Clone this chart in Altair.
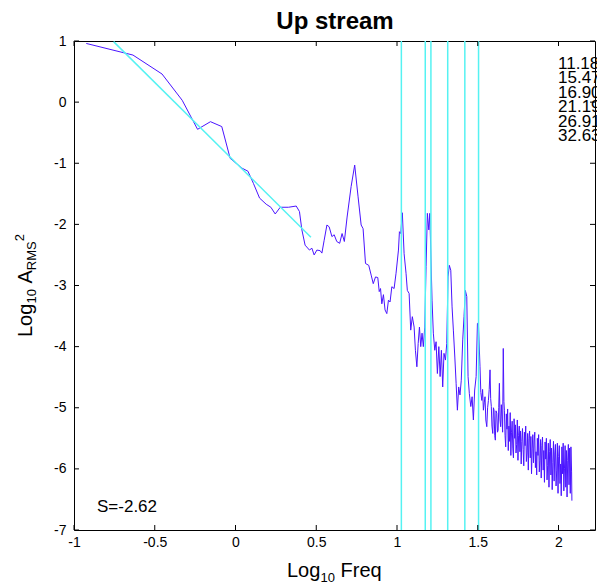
import altair as alt
import pandas as pd

# ---------------- data ----------------
title_text = "Up stream"

log_freq = [
    -0.924, -0.635, -0.455, -0.33, -0.235, -0.155, -0.085, -0.033, 0.04, 0.077,
    0.111, 0.149, 0.19, 0.219, 0.246, 0.277, 0.328, 0.376, 0.396, 0.411,
    0.431, 0.458, 0.473, 0.487, 0.504, 0.524, 0.535, 0.549, 0.566, 0.58,
    0.597, 0.611, 0.627, 0.645, 0.66, 0.674, 0.691, 0.716, 0.738, 0.759,
    0.778, 0.79, 0.805, 0.825, 0.84, 0.853, 0.867, 0.881, 0.89, 0.898,
    0.906, 0.916, 0.926, 0.937, 0.947, 0.957, 0.968, 0.982, 0.994, 1.009,
    1.015, 1.023, 1.033, 1.044, 1.056, 1.064, 1.075, 1.085, 1.095, 1.106,
    1.114, 1.123, 1.131, 1.139, 1.147, 1.155, 1.163, 1.172, 1.18, 1.188,
    1.197, 1.203, 1.209, 1.217, 1.225, 1.234, 1.242, 1.25, 1.259, 1.267,
    1.275, 1.283, 1.291, 1.30, 1.308, 1.316, 1.324, 1.333, 1.341, 1.349,
    1.358, 1.366, 1.374, 1.382, 1.39, 1.398, 1.407, 1.415, 1.423, 1.432,
    1.44, 1.448, 1.457, 1.465, 1.473, 1.481, 1.49, 1.498, 1.504, 1.514,
    1.519, 1.525, 1.530, 1.535, 1.540, 1.545, 1.550, 1.556, 1.561, 1.566,
    1.571, 1.576, 1.580, 1.584, 1.588, 1.593, 1.597, 1.601, 1.605, 1.609,
    1.613, 1.618, 1.622, 1.626, 1.630, 1.634, 1.638, 1.642, 1.646, 1.650,
    1.654, 1.658, 1.662, 1.665, 1.669, 1.673, 1.677, 1.681, 1.685, 1.689,
    1.693, 1.697, 1.701, 1.705, 1.709, 1.713, 1.717, 1.721, 1.725, 1.729,
    1.733, 1.737, 1.741, 1.745, 1.749, 1.753, 1.757, 1.761, 1.765, 1.769,
    1.773, 1.777, 1.781, 1.785, 1.789, 1.793, 1.797, 1.801, 1.805, 1.809,
    1.813, 1.817, 1.821, 1.825, 1.829, 1.833, 1.837, 1.841, 1.845, 1.849,
    1.853, 1.857, 1.861, 1.865, 1.869, 1.873, 1.877, 1.881, 1.885, 1.889,
    1.893, 1.897, 1.901, 1.905, 1.909, 1.913, 1.917, 1.921, 1.925, 1.929,
    1.933, 1.937, 1.941, 1.945, 1.949, 1.953, 1.957, 1.961, 1.965, 1.969,
    1.973, 1.977, 1.981, 1.985, 1.989, 1.993, 1.997, 2.001, 2.005, 2.009,
    2.013, 2.017, 2.021, 2.025, 2.029, 2.033, 2.037, 2.041, 2.045, 2.049,
    2.053, 2.057, 2.061, 2.065, 2.069, 2.073, 2.077, 2.081, 2.083,
]

log_amp = [
    0.96, 0.77, 0.46, 0.03, -0.445, -0.32, -0.40, -0.92, -1.08, -1.13,
    -1.33, -1.57, -1.67, -1.72, -1.83, -1.72, -1.72, -1.70, -1.79, -2.09,
    -2.34, -2.42, -2.39, -2.50, -2.42, -2.43, -2.47, -2.26, -2.01, -2.04,
    -2.20, -2.17, -2.28, -2.31, -2.15, -2.28, -1.88, -1.38, -1.03, -1.55,
    -2.01, -2.07, -2.64, -2.67, -2.83, -2.97, -2.86, -2.87, -3.10, -3.05,
    -3.30, -3.15, -3.40, -3.46, -3.24, -3.27, -3.02, -3.05, -2.80, -2.42,
    -2.12, -2.15, -1.81, -2.48, -2.80, -3.08, -3.13, -3.73, -3.51, -3.68,
    -4.06, -4.33, -3.95, -3.68, -4.00, -3.78, -4.00, -3.68, -2.69, -1.82,
    -2.09, -1.82, -2.42, -3.24, -3.78, -4.06, -3.92, -4.44, -4.00, -4.49,
    -4.06, -4.66, -4.11, -4.22, -3.95, -2.86, -2.67, -2.75, -3.35, -3.73,
    -4.17, -4.60, -5.04, -4.66, -4.79, -4.55, -3.89, -3.51, -3.08, -3.18,
    -4.49, -4.77, -4.98, -4.82, -5.20, -4.71, -4.49, -3.62, -3.62, -4.33,
    -4.75, -4.88, -4.70, -5.04, -4.92, -4.82, -5.20, -5.31, -5.00, -4.88,
    -4.70, -4.38, -4.85, -4.98, -5.30, -5.42, -5.00, -5.04, -5.45, -5.53,
    -5.05, -5.09, -5.40, -5.37, -5.00, -4.60, -5.20, -5.31, -4.95, -5.15,
    -5.40, -4.03, -4.90, -5.04, -5.45, -5.64, -5.10, -5.35, -5.02, -5.70,
    -5.30, -5.55, -5.08, -5.78, -5.40, -5.22, -5.66, -5.82, -5.18, -5.50,
    -5.28, -5.74, -5.60, -5.20, -5.86, -5.45, -5.30, -5.72, -5.38, -5.92,
    -5.55, -5.34, -5.68, -5.95, -5.40, -5.62, -5.30, -5.88, -5.74, -5.42,
    -6.02, -5.50, -5.38, -5.82, -5.47, -6.08, -5.66, -5.44, -5.90, -5.56,
    -5.40, -5.98, -5.72, -6.10, -5.50, -5.78, -5.44, -6.05, -5.86, -5.52,
    -6.15, -5.62, -5.48, -6.02, -5.70, -6.22, -5.56, -5.84, -5.50, -6.18,
    -5.94, -5.58, -6.30, -5.72, -5.52, -6.10, -5.66, -6.34, -5.90, -5.55,
    -6.20, -5.74, -5.60, -6.28, -6.02, -5.58, -6.40, -5.80, -5.62, -6.24,
    -5.92, -6.44, -5.64, -6.08, -5.58, -6.36, -6.00, -5.62, -6.30, -5.70,
    -6.46, -5.86, -5.60, -6.26, -5.66, -6.40, -5.64, -6.05, -6.52,
]

fit_x = [-0.755, 0.467]
fit_y = [0.99, -2.21]

peak_x = [1.027, 1.175, 1.21, 1.314, 1.42, 1.505]
peak_labels = ["11.18", "15.47", "16.90", "21.19", "26.91", "32.63"]
slope_text = "S=-2.62"

x_ticks = [-1, -0.5, 0, 0.5, 1, 1.5, 2]
y_ticks = [1, 0, -1, -2, -3, -4, -5, -6, -7]

# ---------------- layout / style ----------------
W, H = 521, 489
FONT = "Liberation Sans"
BLUE = "#4a14ff"
CYAN = "#55f2f2"

xs = alt.Scale(domain=[-1, 2.226], nice=False, zero=False)
ys = alt.Scale(domain=[-7, 1], nice=False, zero=False)

X = alt.X("x:Q", scale=xs, axis=alt.Axis(
    values=x_ticks, labelExpr="'' + datum.value", ticks=False, domain=False,
    grid=False, title=None, labelFontSize=14, labelFont=FONT, labelColor="black",
    labelPadding=5, labelFlush=False, labelOverlap=False))
Y = alt.Y("y:Q", scale=ys, axis=alt.Axis(
    values=y_ticks, labelExpr="'' + datum.value", ticks=False, domain=False,
    grid=False, title=None, labelFontSize=14, labelFont=FONT, labelColor="black",
    labelPadding=8, labelFlush=False, labelOverlap=False))

spec_df = pd.DataFrame({"x": log_freq, "y": log_amp, "i": list(range(len(log_freq)))})
fit_df = pd.DataFrame({"x": fit_x, "y": fit_y})
peak_df = pd.DataFrame({"x": peak_x})
xt_df = pd.DataFrame({"x": x_ticks})
yt_df = pd.DataFrame({"y": y_ticks})
one = pd.DataFrame({"k": [0]})

spectrum = alt.Chart(spec_df).mark_line(color=BLUE, strokeWidth=1).encode(
    x=X, y=Y, order="i:Q")
fit = alt.Chart(fit_df).mark_line(color=CYAN, strokeWidth=1.5).encode(x=X, y=Y)
rules = alt.Chart(peak_df).mark_rule(color=CYAN, strokeWidth=1.5).encode(x=X)

tick_bottom = alt.Chart(xt_df).mark_rule(color="black").encode(
    x=X, y=alt.value(H), y2=alt.value(H - 5))
tick_top = alt.Chart(xt_df).mark_rule(color="black").encode(
    x=X, y=alt.value(0), y2=alt.value(5))
tick_left = alt.Chart(yt_df).mark_rule(color="black").encode(
    y=Y, x=alt.value(0), x2=alt.value(5))
tick_right = alt.Chart(yt_df).mark_rule(color="black").encode(
    y=Y, x=alt.value(W), x2=alt.value(W - 5))

def txt(s, x, y, size, **kw):
    return alt.Chart(one).mark_text(
        text=s, font=FONT, fontSize=size, color="black",
        baseline=kw.pop("baseline", "alphabetic"), align=kw.pop("align", "left"), **kw
    ).encode(x=alt.value(x), y=alt.value(y))

peak_text = txt(peak_labels, 484, 27.5, 17, lineHeight=14.5)
slope = txt(slope_text, 23, 471, 17)
title = txt(title_text, 261, -11.7, 24, align="center", fontWeight="bold")

# x-axis title  Log_10 Freq
xt1 = txt("Log", 213, 536, 20)
xt2 = txt("10", 246.5, 541, 13)
xt3 = txt("Freq", 266.5, 536, 20)

# y-axis title  Log_10 A_RMS^2 (rotated)
yt1 = txt("Log", -42, 296, 20, angle=270)
yt2 = txt("10", -38, 262.6, 13, angle=270)
yt3 = txt("A", -42, 242.5, 20, angle=270)
yt4 = txt("RMS", -38, 229.2, 13, angle=270)
yt5 = txt("2", -50, 200.3, 13, angle=270)

chart = alt.layer(
    spectrum, fit, rules, tick_bottom, tick_top, tick_left, tick_right,
    peak_text, slope, title, xt1, xt2, xt3, yt1, yt2, yt3, yt4, yt5,
).properties(
    width=W, height=H,
    padding={"left": 74, "top": 41, "right": 2, "bottom": 53},
    autosize=alt.AutoSizeParams(type="none"),
    background="white",
).configure_view(stroke="black", strokeWidth=1)

chart.save("out.html", embed_options={"renderer": "svg", "actions": False})
